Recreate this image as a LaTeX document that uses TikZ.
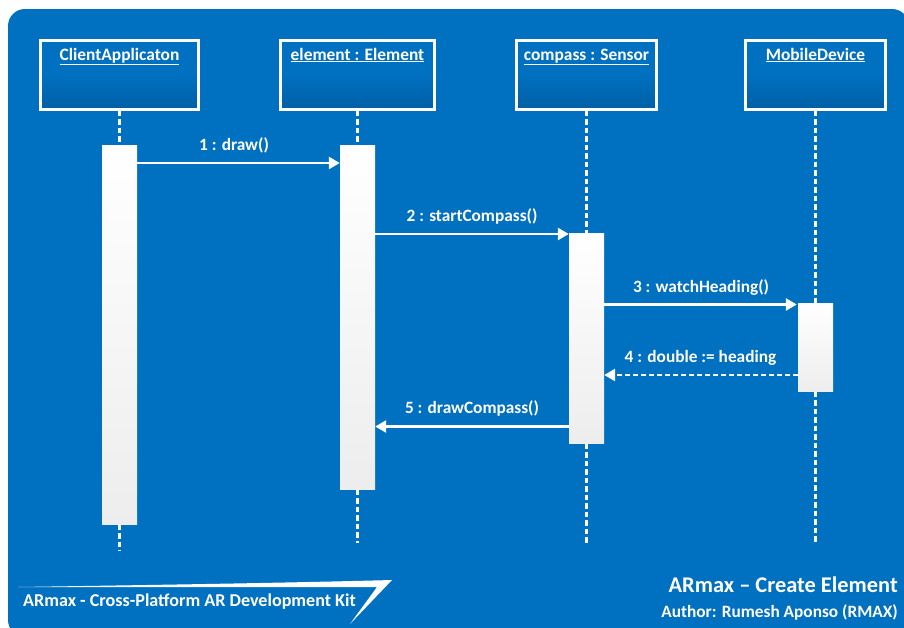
\documentclass[tikz,border=0pt]{standalone}
\usepackage{fontspec}
\setmainfont{Carlito}
\usetikzlibrary{arrows.meta}
\definecolor{bluebg}{HTML}{0070C0}
\definecolor{bluedark}{HTML}{005FA6}
\definecolor{barbottom}{HTML}{EDEDED}
\tikzset{
  x=1pt,y=-1pt,
  headbox/.style={draw=white,line width=3pt,inner sep=0pt,top color=bluebg,bottom color=bluedark,middle color=bluebg,minimum height=69pt},
  headtext/.style={text=white,font=\bfseries\fontsize{17.4}{19}\selectfont,inner sep=0pt,anchor=base},
  bar/.style={inner sep=0pt,top color=white,bottom color=barbottom,minimum width=35pt},
  life/.style={white,line width=3pt,dash pattern=on 5.5pt off 3pt},
  msg/.style={white,line width=2.6pt,-{Triangle[length=11pt,width=12pt]}},
  ret/.style={white,line width=2.6pt,dash pattern=on 5pt off 3pt,-{Triangle[length=11pt,width=12pt]}},
  msgtext/.style={text=white,font=\bfseries\fontsize{17.3}{19}\selectfont,inner sep=0pt,anchor=base},
}
\begin{document}
\begin{tikzpicture}
\useasboundingbox (0,0) rectangle (904,627);
\fill[white] (0,0) rectangle (904,627);
\begin{scope}
\clip (0,0) rectangle (904,627);
\fill[bluebg,rounded corners=17pt] (8,9) rectangle (909,637);
\end{scope}
% heads
\node[headbox,minimum width=158pt] (h1) at (119.5,74.5) {};
\node[headbox,minimum width=154pt] (h2) at (357.5,74.5) {};
\node[headbox,minimum width=140pt] (h3) at (586.5,74.5) {};
\node[headbox,minimum width=140pt] (h4) at (815.5,74.5) {};
\node[headtext] (t1) at (119.5,60) {\underline{ClientApplicaton}};
\node[headtext] (t2) at (357.5,60) {\underline{element : Element}};
\node[headtext] (t3) at (586.5,60) {\underline{compass : Sensor}};
\node[headtext] (t4) at (815.5,60) {\underline{MobileDevice}};
% lifeline ends
\coordinate (e1) at (119,551);
\coordinate (e2) at (357,543);
\coordinate (e3) at (586.5,543);
\coordinate (e4) at (815,543);
% activation bars
\node[bar,minimum height=379pt] (a1) at (119.5,335) {};
\node[bar,minimum height=344pt] (a2) at (357.5,317.5) {};
\node[bar,minimum height=210pt] (a3) at (586.5,338.5) {};
\node[bar,minimum height=88pt] (a4) at (815.5,347.5) {};
% lifelines
\draw[life] (h1.south) -- (h1.south |- a1.north);
\draw[life] (a1.south) -- (a1.south |- e1);
\draw[life] (h2.south) -- (h2.south |- a2.north);
\draw[life] (a2.south) -- (a2.south |- e2);
\draw[life] (h3.south) -- (h3.south |- a3.north);
\draw[life] (a3.south) -- (a3.south |- e3);
\draw[life] (h4.south) -- (h4.south |- a4.north);
\draw[life] (a4.south) -- (a4.south |- e4);
% messages
\coordinate (m1) at (0,163);
\coordinate (m2) at (0,234);
\coordinate (m3) at (0,304.5);
\coordinate (m4) at (0,375);
\coordinate (m5) at (0,426.5);
\draw[msg] (a1.east |- m1) -- (a2.west |- m1);
\draw[msg] (a2.east |- m2) -- (a3.west |- m2);
\draw[msg,shorten >=1pt] (a3.east |- m3) -- (a4.west |- m3);
\draw[ret] (a4.west |- m4) -- (a3.east |- m4);
\draw[msg] (a3.west |- m5) -- (a2.east |- m5);
\node[msgtext] (l1) at (234,150) {1 : draw()};
\node[msgtext] (l2) at (472,221) {2 : startCompass()};
\node[msgtext] (l3) at (701,292) {3 : watchHeading()};
\node[msgtext] (l4) at (700.5,362) {4 : double := heading};
\node[msgtext] (l5) at (472,413) {5 : drawCompass()};
% banner
\fill[white] (18,587) .. controls (150,585) and (280,583) .. (392,580) -- (350,624) -- (377,587) -- cycle;
\node[text=white,font=\bfseries\fontsize{18.1}{20}\selectfont,inner sep=0pt,anchor=base west] (kit) at (23,606) {ARmax - Cross-Platform AR Development Kit};
\node[text=white,font=\bfseries\fontsize{22.4}{25}\selectfont,inner sep=0pt,anchor=base east] (title) at (898,592) {ARmax – Create Element};
\node[text=white,font=\bfseries\fontsize{17.3}{19}\selectfont,inner sep=0pt,anchor=base east] (author) at (898,617) {Author: Rumesh Aponso (RMAX)};
\end{tikzpicture}
\end{document}
